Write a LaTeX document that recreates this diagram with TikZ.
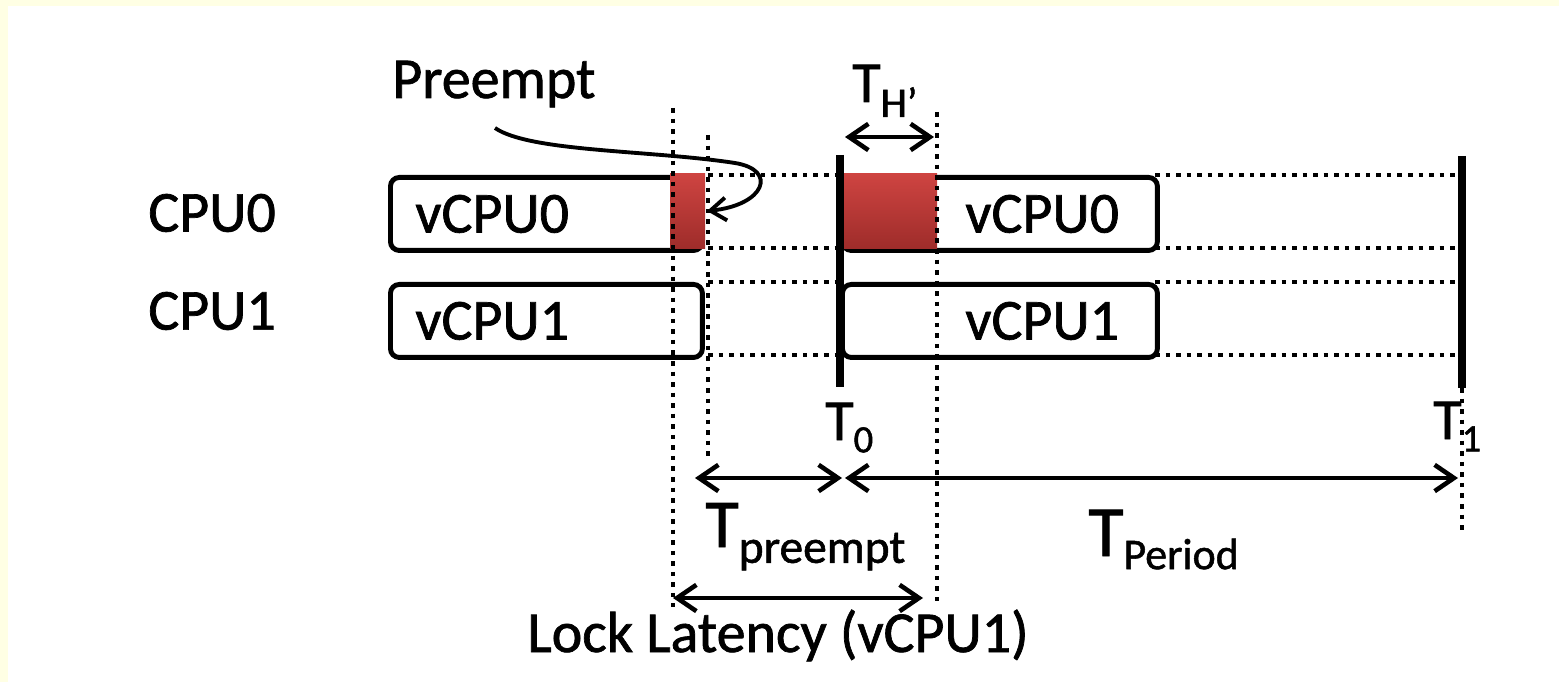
\documentclass[tikz,border=0pt]{standalone}
\usepackage{fontspec}
\setmainfont{Carlito}[FakeBold=1.2]
\usetikzlibrary{arrows.meta, positioning}
\usepackage{xcolor}
\definecolor{paneyellow}{HTML}{FFFFE4}
\definecolor{slicered}{HTML}{CE4441}
\definecolor{slicedark}{HTML}{9E2C2A}

\newcommand{\tlab}[4]{{\fontsize{#1}{#1}\selectfont T}\raisebox{-#3}{\fontsize{#2}{#2}\selectfont #4}}

\begin{document}
\begin{tikzpicture}[
    x=0.02cm, y=-0.02cm,
    txt/.style={font=\fontsize{33}{40}\selectfont, inner sep=0pt},
    box/.style={draw, line width=2.8pt, rounded corners=5pt, minimum height=1.46cm, inner sep=0pt, anchor=north west},
    slice/.style={top color=slicered, bottom color=slicedark, draw=none},
    guide/.style={line width=2.6pt, dash pattern=on 2.6pt off 3.4pt},
    tickline/.style={line width=4.5pt},
    dim/.style={{Straight Barb[length=11pt,width=15pt]}-{Straight Barb[length=11pt,width=15pt]}, line width=2.6pt},
]

\fill[paneyellow] (0,0) rectangle (1559,682);
\fill[white] (8,6) rectangle (1559,682);
\useasboundingbox (0,0) rectangle (1559,682);

\node[txt, anchor=west] (cpu0) at (148,213) {CPU0};
\node[txt, anchor=west] (cpu1) at (148,311) {CPU1};

\node[box, minimum width=6.24cm] (v0a) at (388,175) {};
\node[box, minimum width=6.24cm] (v1a) at (388,282) {};
\node[box, minimum width=6.3cm] (v0b) at (840,175) {};
\node[box, minimum width=6.3cm] (v1b) at (840,282) {};

\node[txt, right=0.54cm of v0a.west] {vCPU0};
\node[txt, right=0.54cm of v1a.west] {vCPU1};
\node[txt, right=2.5cm of v0b.west] {vCPU0};
\node[txt, right=2.5cm of v1b.west] {vCPU1};

% preempted slices
\shade[slice] (670,174) rectangle (705,249);
\shade[slice] (840,174) rectangle (937,249);

\draw[guide] (673,108) -- (673,607);
\draw[guide] (708,135) -- (708,458);
\draw[guide] (937,112) -- (937,607);
\draw[guide] (1462,388) -- (1462,530);
\foreach \y in {175,248,282,355} {
    \draw[guide] (708,\y) -- (840,\y);
    \draw[guide] (1155,\y) -- (1462,\y);
}

\draw[tickline] (840,155) -- (840,387);
\draw[tickline] (1462,156) -- (1462,388);

\node[txt, anchor=base west] (preempt) at (392,98) {Preempt};
\node[txt, anchor=base west] (th) at (852,102) {\tlab{33}{24}{8.5pt}{H’}};
\node[txt, anchor=base west] (t0) at (825,440) {\tlab{33}{22}{7pt}{0}};
\node[txt, anchor=base west] (t1) at (1433,439) {\tlab{33}{22}{7pt}{1}};
\node[txt, anchor=base west] (tpre) at (705,547) {\tlab{39}{27}{9pt}{preempt}};
\node[txt, anchor=base west] (tper) at (1088,556) {\tlab{41}{25}{7.5pt}{Period}};
\node[txt, anchor=base west] (lock) at (527,652) {Lock Latency (vCPU1)};

\coordinate (ha) at (845,137);
\coordinate (hb) at (934,137);
\coordinate (pa) at (695,478);
\coordinate (pb) at (842,478);
\coordinate (qa) at (845,478);
\coordinate (qb) at (1458,478);
\coordinate (la) at (673,598);
\coordinate (lb) at (923,598);
\foreach \a/\b in {ha/hb, pa/pb, qa/qb, la/lb} {
    \draw[dim] (\a) -- (\b);
}

\coordinate (pstart) at (495,128);
\coordinate (pend) at (707,211);
\draw[-{Straight Barb[length=9pt,width=13pt]}, line width=2.2pt]
    (pstart) .. controls (530,152) and (650,150) .. (735,163)
    .. controls (778,170) and (765,205) .. (pend);

\end{tikzpicture}
\end{document}
